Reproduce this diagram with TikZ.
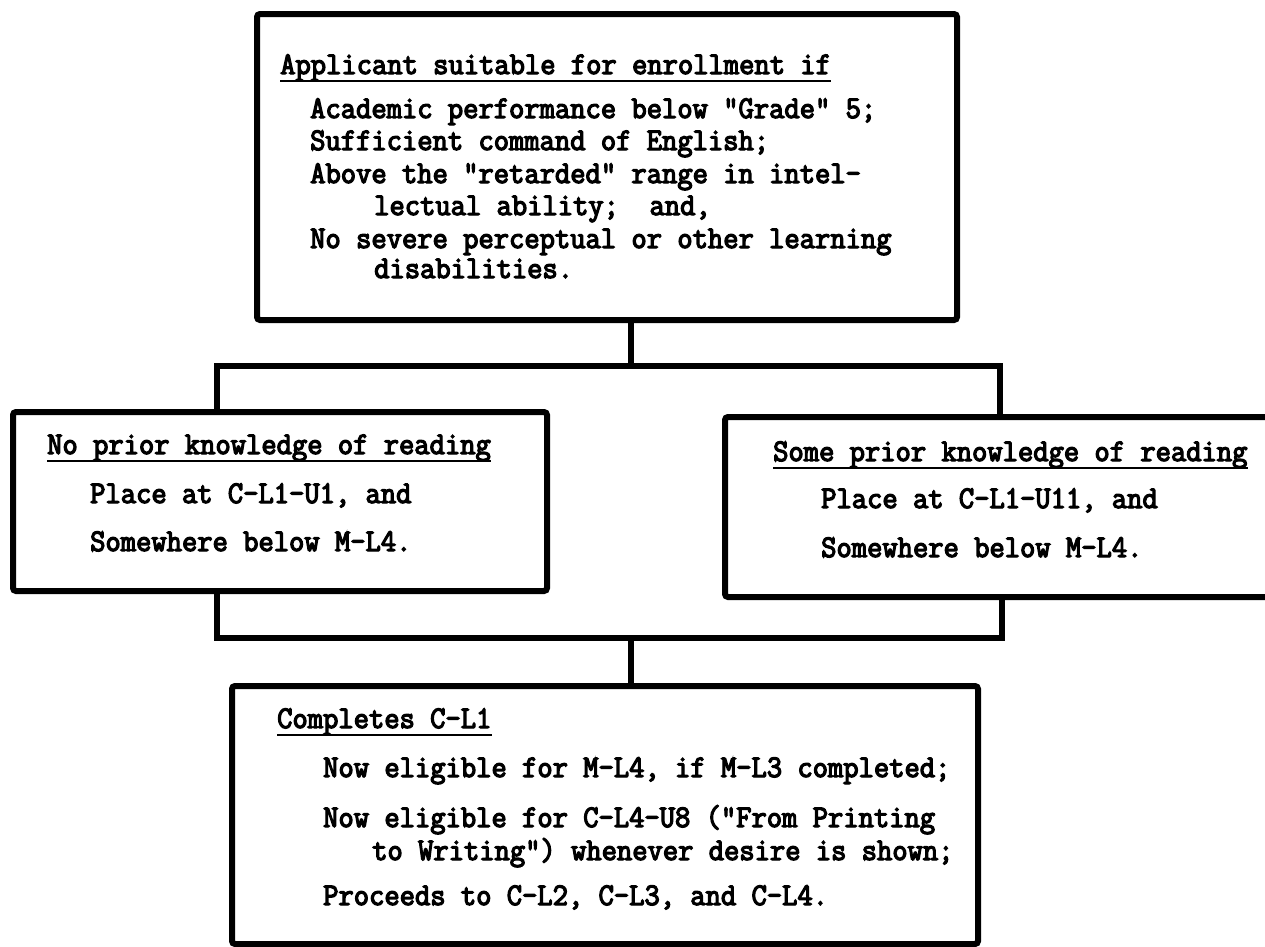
\documentclass[tikz,border=0pt]{standalone}
\usepackage{fontspec}
\newfontfamily\tw{Latin Modern Mono}[FakeBold=4,FakeStretch=0.943]
\begin{document}
\begin{tikzpicture}[x=1pt,y=-1pt,
  box/.style={draw=black,line width=6pt,rounded corners=3pt,inner sep=0pt},
  conn/.style={draw=black,line width=5.5pt,line join=miter},
  txt/.style={inner sep=0pt,anchor=base west,font=\tw\fontsize{31.5}{32}\selectfont},
  uline/.style={draw=black,line width=2.5pt}]
\useasboundingbox[fill=white] (0,0) rectangle (1265,946);
% boxes
\node[box,minimum width=700pt,minimum height=306pt] (top) at (607,167) {};
\node[box,minimum width=534pt,minimum height=179pt] (left) at (280,501.5) {};
\node[box,minimum width=565pt,minimum height=180pt] (right) at (1007.5,507) {};
\node[box,minimum width=746pt,minimum height=258pt] (bottom) at (605,815) {};
% connector junctions
\coordinate (ub) at (631,366);
\coordinate (ubl) at (217,366);
\coordinate (ubr) at (1000,366);
\coordinate (lb) at (631,638);
\coordinate (lbl) at (217,638);
\coordinate (lbr) at (1002,638);
\draw[conn] (top.south -| ub) -- (ub);
\draw[conn] (ubl |- left.north) -- (ubl) -- (ubr) -- (ubr |- right.north);
\draw[conn] (lbl |- left.south) -- (lbl) -- (lbr) -- (lbr |- right.south);
\draw[conn] (lb) -- (lb |- bottom.north);
% top box text
\node[txt] (h1) at (280,74) {Applicant suitable for enrollment if};
\draw[uline] ([yshift=-7pt]h1.base west) -- ([yshift=-7pt]h1.base east);
\node[txt] (a1) at (310,118) {Academic performance below "Grade" 5;};
\node[txt] (a2) at (310,150) {Sufficient command of English;};
\node[txt] (a3) at (310,183) {Above the "retarded" range in intel-};
\node[txt] (a4) at (374,215) {lectual ability;\ \ and,};
\node[txt] (a5) at (310,248) {No severe perceptual or other learning};
\node[txt] (a6) at (374,278) {disabilities.};
% left box text
\node[txt] (h2) at (47,454) {No prior knowledge of reading};
\draw[uline] ([yshift=-7pt]h2.base west) -- ([yshift=-7pt]h2.base east);
\node[txt] (b1) at (90,503) {Place at C-L1-U1, and};
\node[txt] (b2) at (90,551) {Somewhere below M-L4.};
% right box text
\node[txt] (h3) at (773,461) {Some prior knowledge of reading};
\draw[uline] ([yshift=-7pt]h3.base west) -- ([yshift=-7pt]h3.base east);
\node[txt] (c1) at (821,508) {Place at C-L1-U11, and};
\node[txt] (c2) at (821,557) {Somewhere below M-L4.};
% bottom box text
\node[txt] (h4) at (277,728) {Completes C-L1};
\draw[uline] ([yshift=-7pt]h4.base west) -- ([yshift=-7pt]h4.base east);
\node[txt] (d1) at (323,777) {Now eligible for M-L4, if M-L3 completed;};
\node[txt] (d2) at (323,827) {Now eligible for C-L4-U8 ("From Printing};
\node[txt] (d3) at (372,860) {to Writing") whenever desire is shown;};
\node[txt] (d4) at (323,905) {Proceeds to C-L2, C-L3, and C-L4.};
\end{tikzpicture}
\end{document}
